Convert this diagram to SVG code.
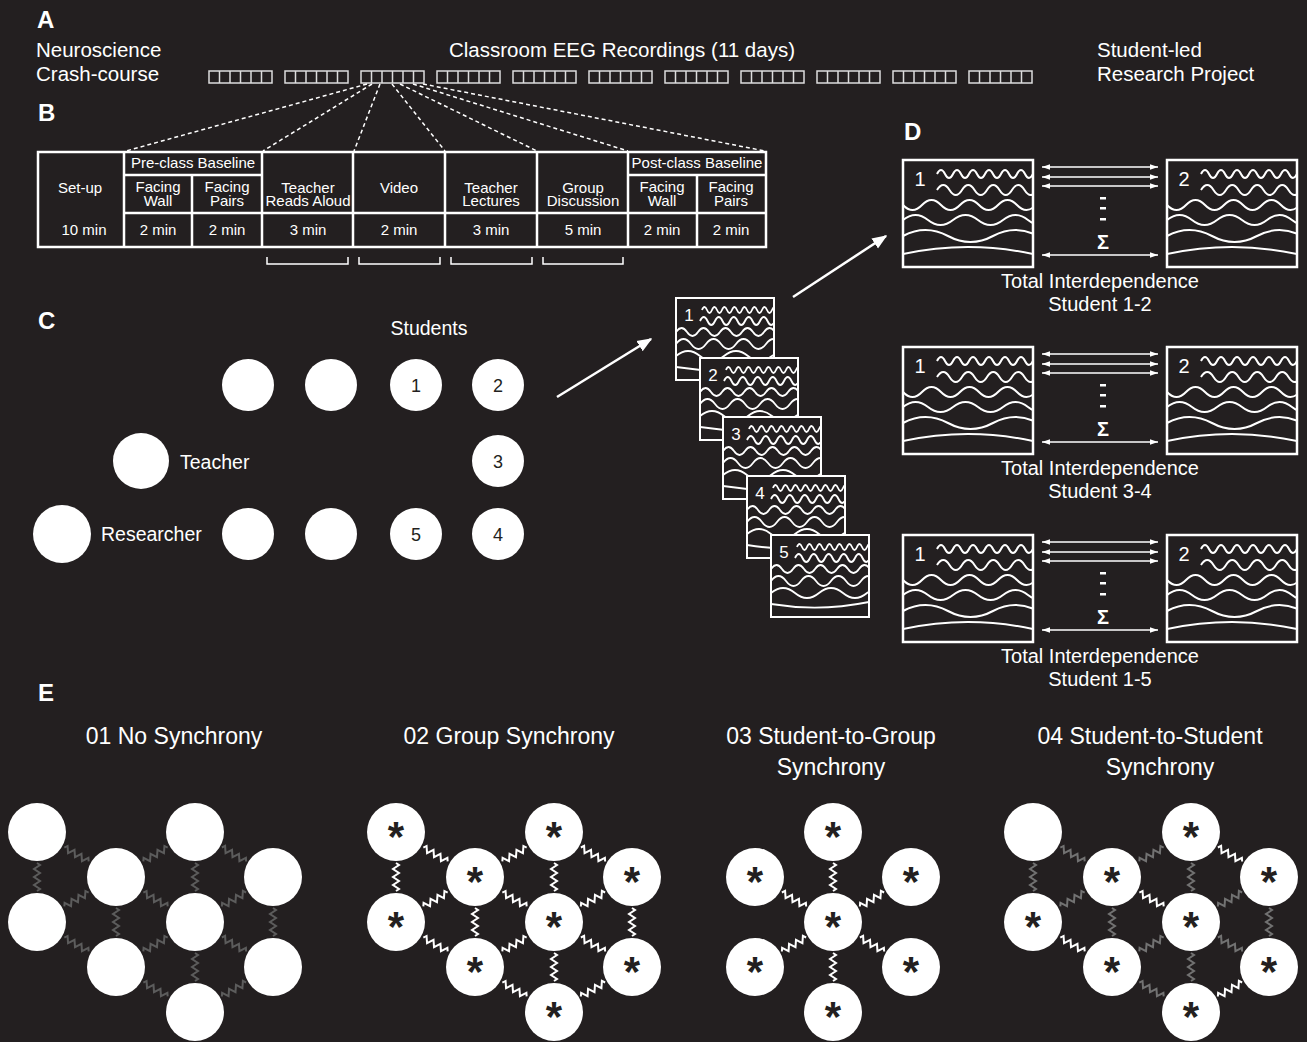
<svg xmlns="http://www.w3.org/2000/svg" width="1307" height="1042" viewBox="0 0 1307 1042">
<style>
text { font-family: "Liberation Sans", Arial, Helvetica, sans-serif; fill: #fff; }
.lbl { font-size: 24px; font-weight: bold; }
.a { font-size: 20.5px; }
.tb { font-size: 15px; text-anchor: middle; }
.tbl { fill: none; stroke: #fff; stroke-width: 2.5; }
.dash { stroke: #fff; stroke-width: 1.5; stroke-dasharray: 4 3; fill: none; }
.br { fill: none; stroke: #fff; stroke-width: 1.5; }
.c { font-size: 19.5px; }
.num { font-size: 18px; text-anchor: middle; }
.snum { font-size: 17px; text-anchor: middle; }
.node { fill: #fff; }
.wv { fill: none; stroke: #fff; stroke-width: 2; }
.wvc { fill: none; stroke: #fff; stroke-width: 1.8; }
.zg { fill: none; stroke: #5c5c5c; stroke-width: 2; }
.zg4 { fill: none; stroke: #727272; stroke-width: 2; }
.zw { fill: none; stroke: #fff; stroke-width: 2; }
.ast { font-size: 42px; font-weight: bold; fill: #231f20; text-anchor: middle; }
.et { font-size: 23px; text-anchor: middle; }
.dt { font-size: 20px; text-anchor: middle; }
</style>
<defs>
<marker id="ah" viewBox="0 0 10 10" refX="10" refY="5" markerWidth="8" markerHeight="8" markerUnits="userSpaceOnUse" orient="auto-start-reverse"><path d="M0,1.5 L10,5 L0,8.5 z" fill="#fff"/></marker>
<marker id="ahL" viewBox="0 0 10 10" refX="9" refY="5" markerWidth="15" markerHeight="15" markerUnits="userSpaceOnUse" orient="auto"><path d="M0,1 L10,5 L0,9 z" fill="#fff"/></marker>
<g id="rec"><rect x="0" y="0" width="63" height="12" fill="none" stroke="#ddd" stroke-width="1.5"/><path d="M10.5,0V12M21,0V12M31.5,0V12M42,0V12M52.5,0V12" stroke="#ddd" stroke-width="1.5"/></g>
<path id="zz" fill="none" d="M-14,0 L-12,-3 L-8,3 L-4,-3 L0,3 L4,-3 L8,3 L12,-3 L14,0"/>
<clipPath id="clipD"><rect width="130" height="107"/></clipPath>
<g id="dtpl">
<rect width="130" height="107" fill="#231f20"/>
<g clip-path="url(#clipD)" class="wv">
<path d="M34,14 q4,-8 8,0 t8,0 t8,0 t8,0 t8,0 t8,0 t8,0 t8,0 t8,0 t8,0 t8,0 t8,0"/>
<path d="M34,30 q6.25,-10 12.5,0 t12.5,0 t12.5,0 t12.5,0 t12.5,0 t12.5,0 t12.5,0 t12.5,0"/>
<path d="M0,45 q9.5,10 19,0 t19,0 t19,0 t19,0 t19,0 t19,0 t19,0"/>
<path d="M0,60 q12.5,-10 25,0 t25,0 t25,0 t25,0 t25,0 t25,0"/>
<path d="M0,76 q22.5,-12 45,0 t45,0 t45,0"/>
<path d="M0,94 q65,-14 130,0"/>
</g>
<rect width="130" height="107" fill="none" stroke="#fff" stroke-width="2.5"/>
</g>
<clipPath id="clipC"><rect width="98" height="82"/></clipPath>
<g id="ctpl">
<rect width="98" height="82" fill="#231f20"/>
<g clip-path="url(#clipC)" class="wvc">
<path d="M26,12 q2.5,-6 5,0 t5,0 t5,0 t5,0 t5,0 t5,0 t5,0 t5,0 t5,0 t5,0 t5,0 t5,0 t5,0 t5,0 t5,0"/>
<path d="M24,23 q3.75,-8 7.5,0 t7.5,0 t7.5,0 t7.5,0 t7.5,0 t7.5,0 t7.5,0 t7.5,0 t7.5,0 t7.5,0"/>
<path d="M0,34 q5.5,-8 11,0 t11,0 t11,0 t11,0 t11,0 t11,0 t11,0 t11,0 t11,0"/>
<path d="M0,46 q7.5,-10 15,0 t15,0 t15,0 t15,0 t15,0 t15,0 t15,0"/>
<path d="M0,58 q12,-10 24,0 t24,0 t24,0 t24,0 t24,0"/>
<path d="M0,69 q49,8 98,-2"/>
</g>
<rect width="98" height="82" fill="none" stroke="#fff" stroke-width="2"/>
</g>
</defs>
<rect width="1307" height="1042" fill="#231f20"/>

<!-- Section A -->
<g id="secA">
<text class="lbl" x="37" y="28">A</text>
<text class="a" x="36" y="57">Neuroscience</text>
<text class="a" x="36" y="81">Crash-course</text>
<text class="a" x="622" y="57" text-anchor="middle">Classroom EEG Recordings (11 days)</text>
<text class="a" x="1097" y="57">Student-led</text>
<text class="a" x="1097" y="81">Research Project</text>
<g id="recordings">
<use href="#rec" x="209" y="71"/><use href="#rec" x="285" y="71"/><use href="#rec" x="361" y="71"/><use href="#rec" x="437" y="71"/><use href="#rec" x="513" y="71"/><use href="#rec" x="589" y="71"/><use href="#rec" x="665" y="71"/><use href="#rec" x="741" y="71"/><use href="#rec" x="817" y="71"/><use href="#rec" x="893" y="71"/><use href="#rec" x="969" y="71"/>
</g>
</g>

<!-- Section B -->
<g id="secB">
<text class="lbl" x="38" y="121">B</text>
<g id="zoom-lines" class="dash">
<path d="M367,84 L126,151"/>
<path d="M372,84 L263,151"/>
<path d="M380,84 L354,151"/>
<path d="M392,84 L445,151"/>
<path d="M400,84 L537,151"/>
<path d="M413,84 L628,151"/>
<path d="M423,84 L765,151"/>
</g>
<g id="table" class="tbl">
<rect x="38" y="152" width="728" height="95"/>
<path d="M124,152V247M262,152V247M353,152V247M445,152V247M537,152V247M628,152V247M192,175V247M697,175V247M124,175H262M628,175H766M124,213H766"/>
</g>
<g id="table-text">
<text class="tb" x="80" y="193">Set-up</text>
<text class="tb" x="193" y="168">Pre-class Baseline</text>
<text class="tb" x="158" y="192">Facing</text><text class="tb" x="158" y="206">Wall</text>
<text class="tb" x="227" y="192">Facing</text><text class="tb" x="227" y="206">Pairs</text>
<text class="tb" x="308" y="193">Teacher</text><text class="tb" x="308" y="206">Reads Aloud</text>
<text class="tb" x="399" y="193">Video</text>
<text class="tb" x="491" y="193">Teacher</text><text class="tb" x="491" y="206">Lectures</text>
<text class="tb" x="583" y="193">Group</text><text class="tb" x="583" y="206">Discussion</text>
<text class="tb" x="697" y="168">Post-class Baseline</text>
<text class="tb" x="662" y="192">Facing</text><text class="tb" x="662" y="206">Wall</text>
<text class="tb" x="731" y="192">Facing</text><text class="tb" x="731" y="206">Pairs</text>
<text class="tb" x="84" y="235">10 min</text>
<text class="tb" x="158" y="235">2 min</text>
<text class="tb" x="227" y="235">2 min</text>
<text class="tb" x="308" y="235">3 min</text>
<text class="tb" x="399" y="235">2 min</text>
<text class="tb" x="491" y="235">3 min</text>
<text class="tb" x="583" y="235">5 min</text>
<text class="tb" x="662" y="235">2 min</text>
<text class="tb" x="731" y="235">2 min</text>
</g>
<g id="brackets" class="br">
<path d="M267,257V264H348V257"/>
<path d="M359,257V264H440V257"/>
<path d="M451,257V264H532V257"/>
<path d="M543,257V264H623V257"/>
</g>
</g>

<!-- Section C -->
<g id="secC">
<text class="lbl" x="38" y="329">C</text>
<text class="c" x="429" y="335" text-anchor="middle">Students</text>
<g id="c-s-a"><circle class="node" cx="248" cy="385" r="26"/></g>
<g id="c-s-b"><circle class="node" cx="331" cy="385" r="26"/></g>
<g id="c-s1"><circle class="node" cx="416" cy="385" r="26"/><text class="num" x="416" y="391.5" style="fill:#231f20">1</text></g>
<g id="c-s2"><circle class="node" cx="498" cy="385" r="26"/><text class="num" x="498" y="391.5" style="fill:#231f20">2</text></g>
<g id="c-teacher"><circle class="node" cx="141" cy="461" r="28"/><text class="c" x="180" y="469">Teacher</text></g>
<g id="c-s3"><circle class="node" cx="498" cy="461" r="26"/><text class="num" x="498" y="467.5" style="fill:#231f20">3</text></g>
<g id="c-researcher"><circle class="node" cx="62" cy="534" r="29"/><text class="c" x="101" y="541">Researcher</text></g>
<g id="c-s-c"><circle class="node" cx="248" cy="534" r="26"/></g>
<g id="c-s-d"><circle class="node" cx="331" cy="534" r="26"/></g>
<g id="c-s5"><circle class="node" cx="416" cy="534" r="26"/><text class="num" x="416" y="540.5" style="fill:#231f20">5</text></g>
<g id="c-s4"><circle class="node" cx="498" cy="534" r="26"/><text class="num" x="498" y="540.5" style="fill:#231f20">4</text></g>
</g>

<!-- stacked EEG boxes -->
<g id="stack">
<g id="eeg1"><use href="#ctpl" x="676" y="298"/><text class="snum" x="689" y="321">1</text></g>
<g id="eeg2"><use href="#ctpl" x="700" y="358"/><text class="snum" x="713" y="381">2</text></g>
<g id="eeg3"><use href="#ctpl" x="723" y="417"/><text class="snum" x="736" y="440">3</text></g>
<g id="eeg4"><use href="#ctpl" x="747" y="476"/><text class="snum" x="760" y="499">4</text></g>
<g id="eeg5"><use href="#ctpl" x="771" y="535"/><text class="snum" x="784" y="558">5</text></g>
</g>

<g id="big-arrows">
<line x1="557" y1="397" x2="651" y2="339" stroke="#fff" stroke-width="2.5" marker-end="url(#ahL)"/>
<line x1="793" y1="297" x2="886" y2="236" stroke="#fff" stroke-width="2.5" marker-end="url(#ahL)"/>
</g>

<!-- Section D -->
<g id="secD">
<text class="lbl" x="904" y="140">D</text>
<g id="d-row1">
<g id="d1-a"><use href="#dtpl" x="903" y="160"/><text class="dt" x="920" y="186">1</text></g>
<g id="d1-b"><use href="#dtpl" x="1167" y="160"/><text class="dt" x="1184" y="186">2</text></g>
<g id="d1-links">
<line x1="1042" y1="167" x2="1158" y2="167" stroke="#fff" stroke-width="1.5" marker-start="url(#ah)" marker-end="url(#ah)"/>
<line x1="1042" y1="177" x2="1158" y2="177" stroke="#fff" stroke-width="1.5" marker-start="url(#ah)" marker-end="url(#ah)"/>
<line x1="1042" y1="186" x2="1158" y2="186" stroke="#fff" stroke-width="1.5" marker-start="url(#ah)" marker-end="url(#ah)"/>
<line x1="1042" y1="255" x2="1158" y2="255" stroke="#fff" stroke-width="1.5" marker-start="url(#ah)" marker-end="url(#ah)"/>
<rect x="1100" y="197" width="6" height="2.5" fill="#fff"/><rect x="1100" y="207" width="6" height="2.5" fill="#fff"/><rect x="1100" y="218" width="6" height="2.5" fill="#fff"/>
<text x="1103" y="249" font-size="20" font-weight="bold" text-anchor="middle">Σ</text>
</g>
<text class="dt" x="1100" y="288">Total Interdependence</text>
<text class="dt" x="1100" y="311">Student 1-2</text>
</g>
<g id="d-row2">
<g id="d2-a"><use href="#dtpl" x="903" y="347"/><text class="dt" x="920" y="373">1</text></g>
<g id="d2-b"><use href="#dtpl" x="1167" y="347"/><text class="dt" x="1184" y="373">2</text></g>
<g id="d2-links">
<line x1="1042" y1="354" x2="1158" y2="354" stroke="#fff" stroke-width="1.5" marker-start="url(#ah)" marker-end="url(#ah)"/>
<line x1="1042" y1="364" x2="1158" y2="364" stroke="#fff" stroke-width="1.5" marker-start="url(#ah)" marker-end="url(#ah)"/>
<line x1="1042" y1="373" x2="1158" y2="373" stroke="#fff" stroke-width="1.5" marker-start="url(#ah)" marker-end="url(#ah)"/>
<line x1="1042" y1="442" x2="1158" y2="442" stroke="#fff" stroke-width="1.5" marker-start="url(#ah)" marker-end="url(#ah)"/>
<rect x="1100" y="384" width="6" height="2.5" fill="#fff"/><rect x="1100" y="394" width="6" height="2.5" fill="#fff"/><rect x="1100" y="405" width="6" height="2.5" fill="#fff"/>
<text x="1103" y="436" font-size="20" font-weight="bold" text-anchor="middle">Σ</text>
</g>
<text class="dt" x="1100" y="475">Total Interdependence</text>
<text class="dt" x="1100" y="498">Student 3-4</text>
</g>
<g id="d-row3">
<g id="d3-a"><use href="#dtpl" x="903" y="535"/><text class="dt" x="920" y="561">1</text></g>
<g id="d3-b"><use href="#dtpl" x="1167" y="535"/><text class="dt" x="1184" y="561">2</text></g>
<g id="d3-links">
<line x1="1042" y1="542" x2="1158" y2="542" stroke="#fff" stroke-width="1.5" marker-start="url(#ah)" marker-end="url(#ah)"/>
<line x1="1042" y1="552" x2="1158" y2="552" stroke="#fff" stroke-width="1.5" marker-start="url(#ah)" marker-end="url(#ah)"/>
<line x1="1042" y1="561" x2="1158" y2="561" stroke="#fff" stroke-width="1.5" marker-start="url(#ah)" marker-end="url(#ah)"/>
<line x1="1042" y1="630" x2="1158" y2="630" stroke="#fff" stroke-width="1.5" marker-start="url(#ah)" marker-end="url(#ah)"/>
<rect x="1100" y="572" width="6" height="2.5" fill="#fff"/><rect x="1100" y="582" width="6" height="2.5" fill="#fff"/><rect x="1100" y="593" width="6" height="2.5" fill="#fff"/>
<text x="1103" y="624" font-size="20" font-weight="bold" text-anchor="middle">Σ</text>
</g>
<text class="dt" x="1100" y="663">Total Interdependence</text>
<text class="dt" x="1100" y="686">Student 1-5</text>
</g>
</g>

<!-- Section E -->
<g id="secE">
<text class="lbl" x="38" y="701">E</text>
<text class="et" x="174" y="744">01 No Synchrony</text>
<text class="et" x="509" y="744">02 Group Synchrony</text>
<text class="et" x="831" y="744">03 Student-to-Group</text>
<text class="et" x="831" y="775">Synchrony</text>
<text class="et" x="1150" y="744">04 Student-to-Student</text>
<text class="et" x="1160" y="775">Synchrony</text>

<g id="e1" transform="translate(37,0)">
<g id="e1-links" class="zg">
<use href="#zz" transform="translate(0,877) rotate(90)"/>
<use href="#zz" transform="translate(39.5,854.5) rotate(29.7)"/>
<use href="#zz" transform="translate(39.5,899.5) rotate(-29.7)"/>
<use href="#zz" transform="translate(39.5,944.5) rotate(29.7)"/>
<use href="#zz" transform="translate(118.5,854.5) rotate(-29.7)"/>
<use href="#zz" transform="translate(118.5,899.5) rotate(29.7)"/>
<use href="#zz" transform="translate(79,922) rotate(90)"/>
<use href="#zz" transform="translate(118.5,944.5) rotate(-29.7)"/>
<use href="#zz" transform="translate(118.5,989.5) rotate(29.7)"/>
<use href="#zz" transform="translate(158,877) rotate(90)"/>
<use href="#zz" transform="translate(197,854.5) rotate(30)"/>
<use href="#zz" transform="translate(197,899.5) rotate(-30)"/>
<use href="#zz" transform="translate(197,944.5) rotate(30)"/>
<use href="#zz" transform="translate(158,967) rotate(90)"/>
<use href="#zz" transform="translate(197,989.5) rotate(-30)"/>
<use href="#zz" transform="translate(236,922) rotate(90)"/>
</g>
<g id="e1-n1"><circle class="node" cx="0" cy="832" r="29"/></g>
<g id="e1-n2"><circle class="node" cx="0" cy="922" r="29"/></g>
<g id="e1-n3"><circle class="node" cx="79" cy="877" r="29"/></g>
<g id="e1-n4"><circle class="node" cx="79" cy="967" r="29"/></g>
<g id="e1-n5"><circle class="node" cx="158" cy="832" r="29"/></g>
<g id="e1-n6"><circle class="node" cx="158" cy="922" r="29"/></g>
<g id="e1-n7"><circle class="node" cx="158" cy="1012" r="29"/></g>
<g id="e1-n8"><circle class="node" cx="236" cy="877" r="29"/></g>
<g id="e1-n9"><circle class="node" cx="236" cy="967" r="29"/></g>
</g>

<g id="e2" transform="translate(396,0)">
<g id="e2-links" class="zw">
<use href="#zz" transform="translate(0,877) rotate(90)"/>
<use href="#zz" transform="translate(39.5,854.5) rotate(29.7)"/>
<use href="#zz" transform="translate(39.5,899.5) rotate(-29.7)"/>
<use href="#zz" transform="translate(39.5,944.5) rotate(29.7)"/>
<use href="#zz" transform="translate(118.5,854.5) rotate(-29.7)"/>
<use href="#zz" transform="translate(118.5,899.5) rotate(29.7)"/>
<use href="#zz" transform="translate(79,922) rotate(90)"/>
<use href="#zz" transform="translate(118.5,944.5) rotate(-29.7)"/>
<use href="#zz" transform="translate(118.5,989.5) rotate(29.7)"/>
<use href="#zz" transform="translate(158,877) rotate(90)"/>
<use href="#zz" transform="translate(197,854.5) rotate(30)"/>
<use href="#zz" transform="translate(197,899.5) rotate(-30)"/>
<use href="#zz" transform="translate(197,944.5) rotate(30)"/>
<use href="#zz" transform="translate(158,967) rotate(90)"/>
<use href="#zz" transform="translate(197,989.5) rotate(-30)"/>
<use href="#zz" transform="translate(236,922) rotate(90)"/>
</g>
<g id="e2-n1"><circle class="node" cx="0" cy="832" r="29"/><text class="ast" x="0" y="851">*</text></g>
<g id="e2-n2"><circle class="node" cx="0" cy="922" r="29"/><text class="ast" x="0" y="941">*</text></g>
<g id="e2-n3"><circle class="node" cx="79" cy="877" r="29"/><text class="ast" x="79" y="896">*</text></g>
<g id="e2-n4"><circle class="node" cx="79" cy="967" r="29"/><text class="ast" x="79" y="986">*</text></g>
<g id="e2-n5"><circle class="node" cx="158" cy="832" r="29"/><text class="ast" x="158" y="851">*</text></g>
<g id="e2-n6"><circle class="node" cx="158" cy="922" r="29"/><text class="ast" x="158" y="941">*</text></g>
<g id="e2-n7"><circle class="node" cx="158" cy="1012" r="29"/><text class="ast" x="158" y="1031">*</text></g>
<g id="e2-n8"><circle class="node" cx="236" cy="877" r="29"/><text class="ast" x="236" y="896">*</text></g>
<g id="e2-n9"><circle class="node" cx="236" cy="967" r="29"/><text class="ast" x="236" y="986">*</text></g>
</g>

<g id="e3" transform="translate(833,0)">
<g id="e3-links" class="zw">
<use href="#zz" transform="translate(0,877) rotate(90)"/>
<use href="#zz" transform="translate(0,967) rotate(90)"/>
<use href="#zz" transform="translate(-39,899.5) rotate(30)"/>
<use href="#zz" transform="translate(39,899.5) rotate(-30)"/>
<use href="#zz" transform="translate(-39,944.5) rotate(-30)"/>
<use href="#zz" transform="translate(39,944.5) rotate(30)"/>
</g>
<g id="e3-n1"><circle class="node" cx="0" cy="832" r="29"/><text class="ast" x="0" y="851">*</text></g>
<g id="e3-n2"><circle class="node" cx="-78" cy="877" r="29"/><text class="ast" x="-78" y="896">*</text></g>
<g id="e3-n3"><circle class="node" cx="78" cy="877" r="29"/><text class="ast" x="78" y="896">*</text></g>
<g id="e3-n4"><circle class="node" cx="0" cy="922" r="29"/><text class="ast" x="0" y="941">*</text></g>
<g id="e3-n5"><circle class="node" cx="-78" cy="967" r="29"/><text class="ast" x="-78" y="986">*</text></g>
<g id="e3-n6"><circle class="node" cx="78" cy="967" r="29"/><text class="ast" x="78" y="986">*</text></g>
<g id="e3-n7"><circle class="node" cx="0" cy="1012" r="29"/><text class="ast" x="0" y="1031">*</text></g>
</g>

<g id="e4" transform="translate(1033,0)">
<g id="e4-links">
<use class="zg4" href="#zz" transform="translate(0,877) rotate(90)"/>
<use class="zg4" href="#zz" transform="translate(39.5,854.5) rotate(29.7)"/>
<use class="zg4" href="#zz" transform="translate(39.5,899.5) rotate(-29.7)"/>
<use class="zw" href="#zz" transform="translate(39.5,944.5) rotate(29.7)"/>
<use class="zg4" href="#zz" transform="translate(118.5,854.5) rotate(-29.7)"/>
<use class="zw" href="#zz" transform="translate(118.5,899.5) rotate(29.7)"/>
<use class="zg4" href="#zz" transform="translate(79,922) rotate(90)"/>
<use class="zg4" href="#zz" transform="translate(118.5,944.5) rotate(-29.7)"/>
<use class="zg4" href="#zz" transform="translate(118.5,989.5) rotate(29.7)"/>
<use class="zg4" href="#zz" transform="translate(158,877) rotate(90)"/>
<use class="zw" href="#zz" transform="translate(197,854.5) rotate(30)"/>
<use class="zg4" href="#zz" transform="translate(197,899.5) rotate(-30)"/>
<use class="zg4" href="#zz" transform="translate(197,944.5) rotate(30)"/>
<use class="zg4" href="#zz" transform="translate(158,967) rotate(90)"/>
<use class="zw" href="#zz" transform="translate(197,989.5) rotate(-30)"/>
<use class="zg4" href="#zz" transform="translate(236,922) rotate(90)"/>
</g>
<g id="e4-n1"><circle class="node" cx="0" cy="832" r="29"/></g>
<g id="e4-n2"><circle class="node" cx="0" cy="922" r="29"/><text class="ast" x="0" y="941">*</text></g>
<g id="e4-n3"><circle class="node" cx="79" cy="877" r="29"/><text class="ast" x="79" y="896">*</text></g>
<g id="e4-n4"><circle class="node" cx="79" cy="967" r="29"/><text class="ast" x="79" y="986">*</text></g>
<g id="e4-n5"><circle class="node" cx="158" cy="832" r="29"/><text class="ast" x="158" y="851">*</text></g>
<g id="e4-n6"><circle class="node" cx="158" cy="922" r="29"/><text class="ast" x="158" y="941">*</text></g>
<g id="e4-n7"><circle class="node" cx="158" cy="1012" r="29"/><text class="ast" x="158" y="1031">*</text></g>
<g id="e4-n8"><circle class="node" cx="236" cy="877" r="29"/><text class="ast" x="236" y="896">*</text></g>
<g id="e4-n9"><circle class="node" cx="236" cy="967" r="29"/><text class="ast" x="236" y="986">*</text></g>
</g>
</g>
</svg>
